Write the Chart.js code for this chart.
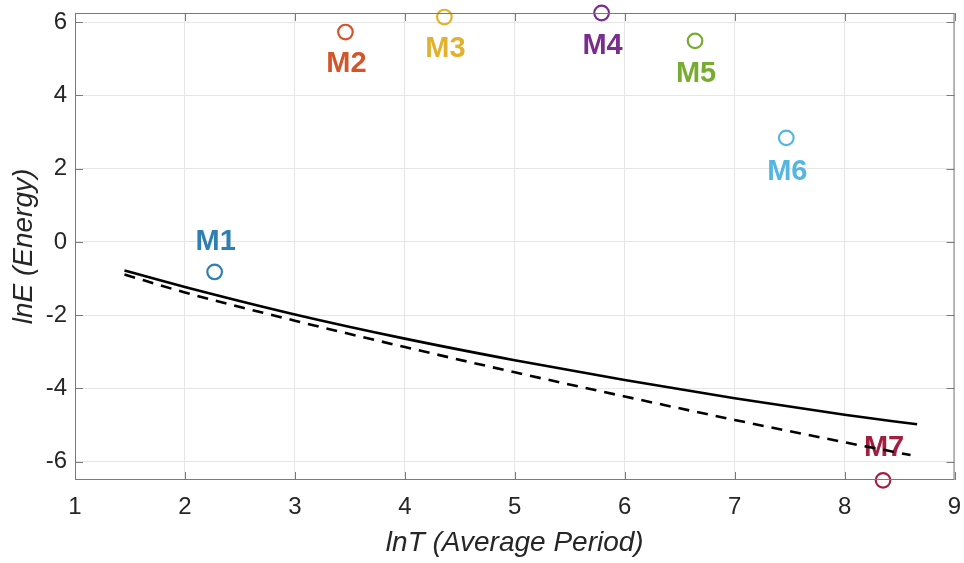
<!DOCTYPE html>
<html>
<head>
<meta charset="utf-8">
<script src="https://cdn.jsdelivr.net/npm/chart.js@4.4.1/dist/chart.umd.min.js"></script>
<style>
  html, body { margin: 0; padding: 0; background: #ffffff; }
  #wrap { width: 964px; height: 563px; }
</style>
</head>
<body>
<div id="wrap"><canvas id="c" width="964" height="563"></canvas></div>
<script>
// Measured models: ln(average period) vs ln(energy)
const modelNames = ['M1', 'M2', 'M3', 'M4', 'M5', 'M6', 'M7'];
const modelLnT = [2.27, 3.46, 4.36, 5.79, 6.64, 7.47, 8.35];
const modelLnE = [-0.82, 5.73, 6.14, 6.25, 5.49, 2.84, -6.51];
const modelColors = ['#2f7fb3', '#d4552a', '#e2b12e', '#7a2d8c', '#77ac30', '#55b6e3', '#a21f3f'];

// Fitted trend (solid) and lower bound (dashed)
const fitLnT = [1.45, 2, 3, 4, 5, 6, 7, 8, 8.66];
const fitLnE = [-0.78, -1.23, -1.98, -2.64, -3.23, -3.77, -4.27, -4.72, -4.98];
const boundLnT = [1.45, 2, 3, 4, 5, 6, 7, 8, 8.6];
const boundLnE = [-0.89, -1.38, -2.15, -2.87, -3.56, -4.22, -4.86, -5.47, -5.82];

const xTicks = [1, 2, 3, 4, 5, 6, 7, 8, 9];
const yTicks = [-6, -4, -2, 0, 2, 4, 6];

const toXY = (xs, ys) => xs.map((x, i) => ({ x: x, y: ys[i] }));

const FONT = '"Liberation Sans", Arial, Helvetica, sans-serif';
const AXIS_GRAY = '#7a7a7a';
const TEXT_GRAY = '#262626';

// Box around the plot area with inward tick marks on all four sides
const boxPlugin = {
  id: 'box',
  afterDraw(chart) {
    const { ctx, chartArea: a, scales } = chart;
    const len = 8;
    ctx.save();
    ctx.strokeStyle = AXIS_GRAY;
    ctx.lineWidth = 1;
    ctx.strokeRect(a.left + 0.5, a.top + 0.5, a.right - a.left - 1, a.bottom - a.top - 1);
    ctx.beginPath();
    xTicks.forEach(v => {
      const px = Math.round(scales.x.getPixelForValue(v)) + 0.5;
      ctx.moveTo(px, a.bottom); ctx.lineTo(px, a.bottom - len);
      ctx.moveTo(px, a.top); ctx.lineTo(px, a.top + len);
    });
    yTicks.forEach(v => {
      const py = Math.round(scales.y.getPixelForValue(v)) + 0.5;
      ctx.moveTo(a.left, py); ctx.lineTo(a.left + len, py);
      ctx.moveTo(a.right, py); ctx.lineTo(a.right - len, py);
    });
    ctx.stroke();
    ctx.restore();
  }
};

// Model name labels next to each marker
const nameLabelPlugin = {
  id: 'nameLabels',
  beforeDatasetsDraw(chart, args, opts) {
    const { ctx, scales } = chart;
    ctx.save();
    ctx.font = 'bold 29px ' + FONT;
    ctx.textAlign = 'center';
    ctx.textBaseline = 'middle';
    modelNames.forEach((name, i) => {
      const px = scales.x.getPixelForValue(modelLnT[i]) + opts.dx;
      const py = scales.y.getPixelForValue(modelLnE[i]) + opts.dy[i];
      ctx.fillStyle = modelColors[i];
      ctx.fillText(name, px, py);
    });
    ctx.restore();
  }
};

new Chart(document.getElementById('c'), {
  type: 'scatter',
  data: {
    datasets: [
      {
        label: 'fit',
        data: toXY(fitLnT, fitLnE),
        showLine: true,
        borderColor: '#000000',
        borderWidth: 2.6,
        pointRadius: 0,
        cubicInterpolationMode: 'monotone',
        order: 2
      },
      {
        label: 'bound',
        data: toXY(boundLnT, boundLnE),
        showLine: true,
        borderColor: '#000000',
        borderWidth: 2.6,
        borderDash: [11, 8],
        pointRadius: 0,
        cubicInterpolationMode: 'monotone',
        order: 3
      },
      {
        label: 'models',
        data: toXY(modelLnT, modelLnE),
        pointStyle: 'circle',
        pointRadius: 7.3,
        pointBorderWidth: 2.2,
        pointBackgroundColor: 'rgba(0,0,0,0)',
        pointBorderColor: modelColors,
        clip: false,
        order: 1
      }
    ]
  },
  options: {
    responsive: false,
    animation: false,
    events: [],
    layout: { padding: { top: 13, right: 9, left: 0, bottom: 0 } },
    plugins: {
      legend: { display: false },
      tooltip: { enabled: false },
      nameLabels: { dx: 1, dy: [-30, 32, 32, 33, 33, 34, -32] }
    },
    scales: {
      x: {
        type: 'linear',
        min: 1,
        max: 9,
        afterFit(scale) {
          scale.height = 83;
          scale.paddingLeft = 0;
          scale.paddingRight = 0;
        },
        afterBuildTicks(scale) { scale.ticks = xTicks.map(v => ({ value: v })); },
        grid: { color: '#e6e6e6', lineWidth: 1, drawTicks: false },
        border: { display: false },
        ticks: {
          padding: 13,
          color: TEXT_GRAY,
          font: { family: FONT, size: 24 },
          maxRotation: 0
        },
        title: {
          display: true,
          text: 'lnT (Average Period)',
          color: TEXT_GRAY,
          font: { family: FONT, size: 28, style: 'italic' },
          padding: { top: 0, bottom: 3 }
        }
      },
      y: {
        type: 'linear',
        min: -6.5,
        max: 6.25,
        afterFit(scale) {
          scale.width = 75;
          scale.paddingTop = 0;
          scale.paddingBottom = 0;
        },
        afterBuildTicks(scale) { scale.ticks = yTicks.map(v => ({ value: v })); },
        grid: { color: '#e6e6e6', lineWidth: 1, drawTicks: false },
        border: { display: false },
        ticks: {
          padding: 8,
          color: TEXT_GRAY,
          font: { family: FONT, size: 24 }
        },
        title: {
          display: true,
          text: 'lnE (Energy)',
          color: TEXT_GRAY,
          font: { family: FONT, size: 28, style: 'italic' },
          padding: { top: 7, bottom: 0 }
        }
      }
    }
  },
  plugins: [boxPlugin, nameLabelPlugin]
});
</script>
</body>
</html>
